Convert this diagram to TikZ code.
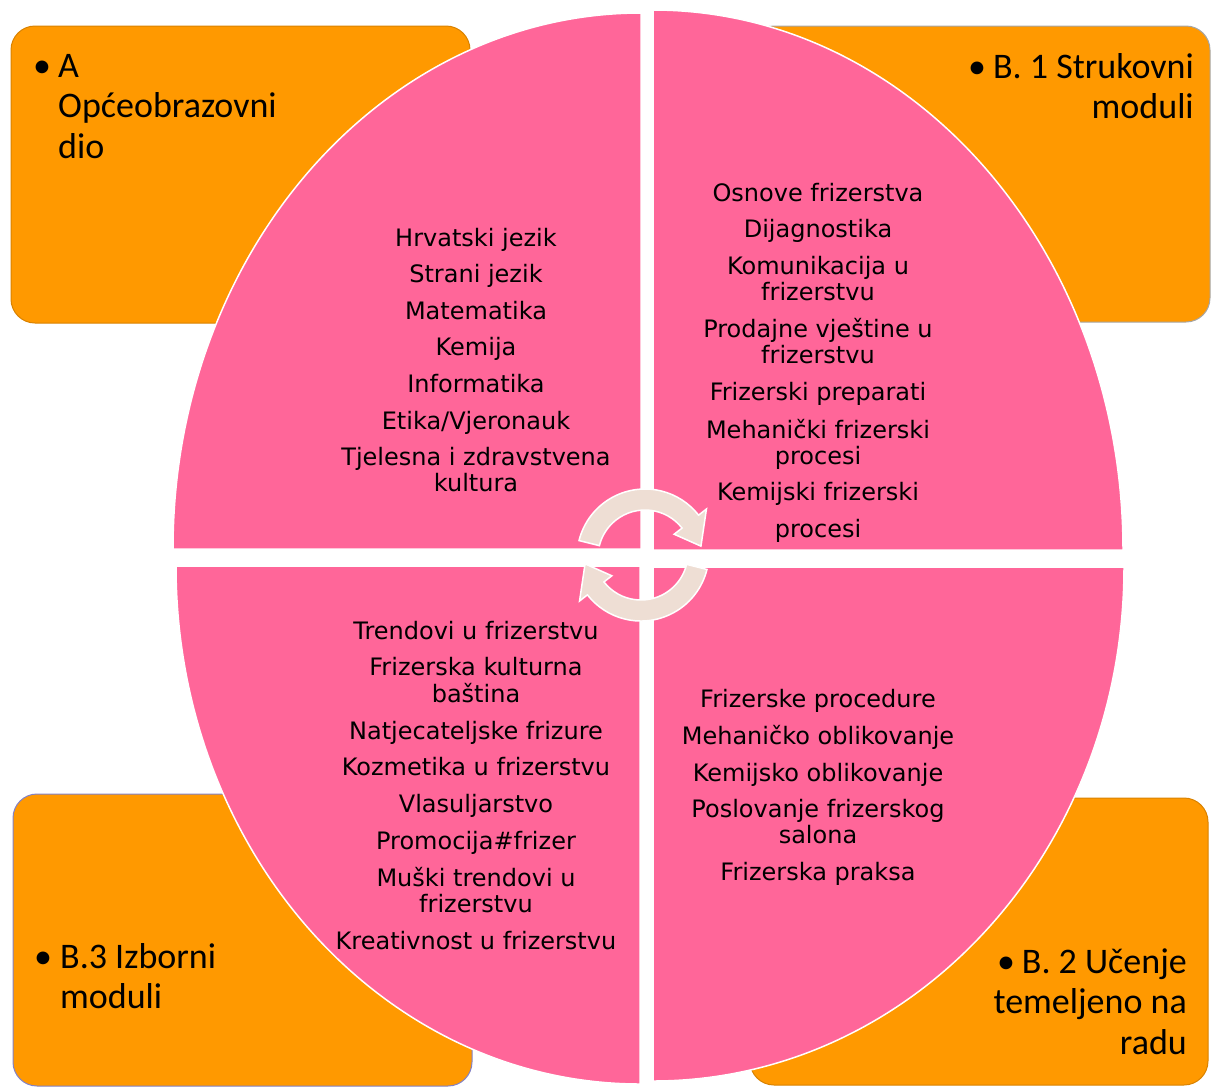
\documentclass[tikz,border=0pt]{standalone}
\usepackage{fontspec}
\usepackage{tikz}
\newfontfamily\listfont{DejaVu Sans}
\newfontfamily\boxfont{Carlito}
\definecolor{boxorange}{RGB}{255,153,0}
\definecolor{piepink}{RGB}{255,102,153}
\definecolor{cyclebeige}{RGB}{238,222,212}
\newcommand{\nxt}{\\[10.6pt]}
\tikzset{
    cornerbox/.style={fill=boxorange, draw=#1, line width=1pt, rounded corners=24pt},
    cornerbox/.default=boxorange!85!black,
    quarter/.style={fill=piepink, draw=white, line width=1.5pt},
    cyclearrow/.style={fill=cyclebeige, draw=white, line width=1.5pt},
    boxlabel/.style={inner sep=0pt, font=\boxfont\fontsize{36}{40.5}\selectfont},
    subjects/.style={inner sep=0pt, anchor=base, font=\listfont\fontsize{24}{26}\selectfont}
}

\begin{document}
\begin{tikzpicture}[x=1pt, y=-1pt]
        \useasboundingbox (0,0) rectangle (1211,1088);
        \path[cornerbox] (11,26) rectangle (470,323);
        \path[cornerbox=gray!70] (750,26) rectangle (1210,322);
        \path[cornerbox=gray!60!blue!70] (13,794) rectangle (472,1086);
        \path[cornerbox] (750,798) rectangle (1208,1085);

        \path[quarter] (641,549) -- (173,549) arc[start angle=180, end angle=270, x radius=468, y radius=536] -- cycle;
        \path[quarter] (653,550) -- (653,10) arc[start angle=270, end angle=360, x radius=470, y radius=540] -- cycle;
        \path[quarter] (640,566) -- (176,566) arc[start angle=180, end angle=90, x radius=464, y radius=518] -- cycle;
        \path[quarter] (653,567) -- (1124,567) arc[start angle=0, end angle=90, x radius=471, y radius=514] -- cycle;

        \foreach \cx/\cy/\rot in {645/557/0, 641/553/180} {
            \begin{scope}[shift={(\cx,\cy)}, yscale=-1, rotate=\rot]
                \path[cyclearrow] (166:68) arc[start angle=166, end angle=38, radius=68]
                    -- (38:78) -- (11:57) -- (38:37) -- (38:47)
                    arc[start angle=38, end angle=166, radius=47] -- cycle;
            \end{scope}
        }

        \node[boxlabel, anchor=base west] (opce) at (33,77)
            {\begin{tabular}[t]{@{}l@{}}\makebox[25pt][l]{•}A\\\hspace{25pt}Općeobrazovni\\\hspace{25pt}dio\end{tabular}};
        \node[boxlabel, anchor=base east] (strukovni) at (1194,78)
            {\begin{tabular}[t]{@{}r@{}}•\hspace{7pt}B. 1 Strukovni\\moduli\end{tabular}};
        \node[boxlabel, anchor=base west] (izborni) at (34,968)
            {\begin{tabular}[t]{@{}l@{}}\makebox[26pt][l]{•}B.3 Izborni\\\hspace{26pt}moduli\end{tabular}};
        \node[boxlabel, anchor=base east] (ucenje) at (1187,973)
            {\begin{tabular}[t]{@{}r@{}}•\hspace{7pt}B. 2 Učenje\\temeljeno na\\radu\end{tabular}};

        \node[subjects] (opceList) at (476,246)
            {\begin{tabular}[t]{@{}c@{}}Hrvatski jezik\nxt Strani jezik\nxt Matematika\nxt Kemija\nxt Informatika\nxt Etika/Vjeronauk\nxt Tjelesna i zdravstvena\\kultura\end{tabular}};
        \node[subjects] (strukovniList) at (818,201)
            {\begin{tabular}[t]{@{}c@{}}Osnove frizerstva\nxt Dijagnostika\nxt Komunikacija u\\frizerstvu\nxt Prodajne vještine u\\frizerstvu\nxt Frizerski preparati\nxt Mehanički frizerski\\procesi\nxt Kemijski frizerski\nxt procesi\end{tabular}};
        \node[subjects] (izborniList) at (476,639)
            {\begin{tabular}[t]{@{}c@{}}Trendovi u frizerstvu\nxt Frizerska kulturna\\baština\nxt Natjecateljske frizure\nxt Kozmetika u frizerstvu\nxt Vlasuljarstvo\nxt Promocija\#frizer\nxt Muški trendovi u\\frizerstvu\nxt Kreativnost u frizerstvu\end{tabular}};
        \node[subjects] (ucenjeList) at (818,707)
            {\begin{tabular}[t]{@{}c@{}}Frizerske procedure\nxt Mehaničko oblikovanje\nxt Kemijsko oblikovanje\nxt Poslovanje frizerskog\\salona\nxt Frizerska praksa\end{tabular}};
\end{tikzpicture}
\end{document}
